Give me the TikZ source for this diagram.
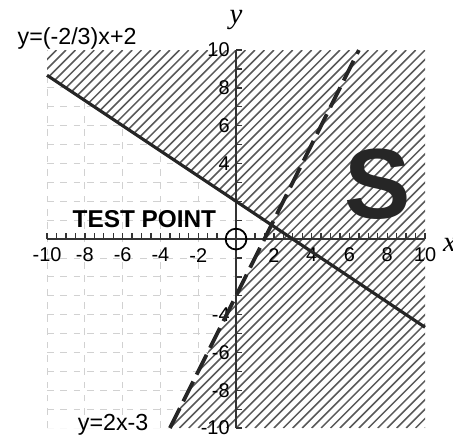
\documentclass[tikz,border=0pt]{standalone}
\usepackage{fontspec}
\setmainfont{Liberation Sans}
\newfontfamily\axisfont{Liberation Serif}
\begin{document}
\begin{tikzpicture}[x=0.3cm, y=0.3cm, font=\fontsize{9}{10}\selectfont,
		axisline/.style={line width=1pt, black!80},
		tickmark/.style={line width=0.6pt, black!80},
		hatchline/.style={line width=0.7pt, black!65},
		gridline/.style={black!18, dashed, thin},
		eqlabel/.style={font=\fontsize{10.5}{12}\selectfont},
		axislabel/.style={font=\axisfont\itshape\fontsize{13}{14}\selectfont}]
		\useasboundingbox (-12.49,-10.42) rectangle (11.48,12.65);

		% --- end points of the two boundary lines ---
		\coordinate (solidL) at (-10,{26/3});
		\coordinate (solidR) at (10,{-14/3});
		\coordinate (dashB) at (-3.5,-10);
		\coordinate (dashT) at (6.5,10);
		\coordinate (meet) at (1.875,0.75);

		% --- faint grid, only in the part that is left blank ---
		\begin{scope}
			\clip (-10,-10) -- (solidL) -- (meet) -- (dashB) -- cycle;
			\foreach \x in {-10,-8,...,10} {
				\draw[gridline] (\x,-10) -- (\x,10);
			}
			\foreach \y in {-10,...,10} {
				\draw[gridline] (-10,\y) -- (10,\y);
			}
		\end{scope}

		% --- hatching of the shaded part ---
		\begin{scope}
			\clip (solidL) -- (-10,10) -- (10,10) -- (10,-10) -- (dashB) -- (meet) -- cycle;
			\foreach \c in {-20,-19.5,...,20} {
				\draw[hatchline] ({\c-10},-10) -- ({\c+10},10);
			}
		\end{scope}

		% --- axes and ticks ---
		\draw[axisline] (-10,0) -- (10,0);
		\draw[axisline] (0,-10) -- (0,10);
		\foreach \x in {-10,-9.5,...,10} {
			\draw[tickmark] (\x,0) -- (\x,0.3);
		}
		\foreach \y in {-10,...,10} {
			\draw[tickmark] (0,\y) -- (0.3,\y);
		}

		% --- tick labels ---
		\foreach \x in {-10,-8,-6,-4,-2,2,4,6,8,10} {
			\node (xlab\x) at (\x,-0.85) {\x};
		}
		\foreach \y in {-10,-8,-6,-4,4,6,8,10} {
			\node[anchor=east, inner sep=1pt] (ylab\y) at (-0.2,\y) {\y};
		}

		% --- boundary lines ---
		\draw[line width=1.4pt, black!85] (solidL) -- (solidR);
		\draw[line width=1.7pt, black!85, dash pattern=on 10pt off 3.5pt] (dashB) -- (dashT);

		% --- test point and labels ---
		\node[circle, draw, line width=0.8pt, minimum size=0.33cm, inner sep=0pt] (testpt) at (0,0) {};
		\node[font=\bfseries\fontsize{11}{12}\selectfont] (testlbl) at (-4.85,1.06) {TEST POINT};
		\node[font=\bfseries\fontsize{45}{45}\selectfont, black!85] (bigS) at (7.5,2.9) {S};
		\node[eqlabel] (solidlbl) at (-8.41,10.63) {y=(-2/3)x+2};
		\node[eqlabel] (dashlbl) at (-6.5,-9.85) {y=2x-3};
		\node[axislabel] (xlbl) at (11.3,-0.3) {x};
		\node[axislabel] (ylbl) at (0,11.6) {y};
	\end{tikzpicture}
\end{document}
